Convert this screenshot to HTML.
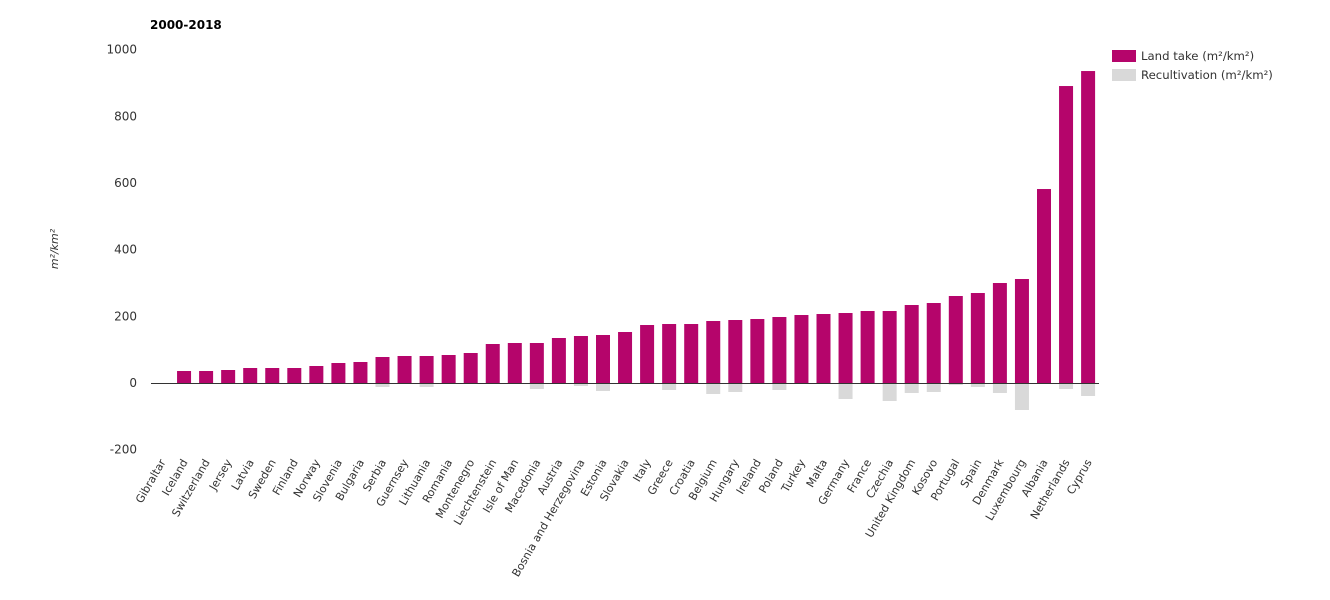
<!DOCTYPE html>
<html><head><meta charset="utf-8"><style>
html,body{margin:0;padding:0;background:#fff;}
svg{display:block;font-family:"DejaVu Sans","Liberation Sans",sans-serif;}
</style></head><body>
<svg id="c" width="1330" height="600" xmlns="http://www.w3.org/2000/svg">
<text x="150" y="29" font-size="12" font-weight="bold" fill="#000">2000-2018</text>
<text transform="translate(58,249) rotate(-90)" font-size="11" font-style="italic" fill="#333" text-anchor="middle">m²/km²</text>
<rect x="1112" y="50" width="24" height="12" fill="#b5056b"/>
<text x="1141" y="60" font-size="11.7" fill="#333">Land take (m²/km²)</text>
<rect x="1112" y="69" width="24" height="12" fill="#d9d9d9"/>
<text x="1141" y="79" font-size="11.7" fill="#333">Recultivation (m²/km²)</text>
<g id="g"></g>
</svg>
<script>
var names=["Gibraltar","Iceland","Switzerland","Jersey","Latvia","Sweden","Finland","Norway","Slovenia","Bulgaria","Serbia","Guernsey","Lithuania","Romania","Montenegro","Liechtenstein","Isle of Man","Macedonia","Austria","Bosnia and Herzegovina","Estonia","Slovakia","Italy","Greece","Croatia","Belgium","Hungary","Ireland","Poland","Turkey","Malta","Germany","France","Czechia","United Kingdom","Kosovo","Portugal","Spain","Denmark","Luxembourg","Albania","Netherlands","Cyprus"];
var lt=[0,36,36,39,45,45,45,51,60,63,78,81,81,84,90,117,120,120,135,141,144,153,174,177,177,186,189,192,198,204,207,210,216,216,234,240,261,270,300,312,582,891,936];
var rc=[0,0,0,0,0,0,0,0,0,0,-12,0,-12,0,0,0,0,-18,0,-9,-24,0,0,-21,0,-33,-27,0,-21,0,0,-48,0,-54,-30,-27,-6,-12,-30,-81,0,-18,-39];
var s="",y0=383,k=0.3333;
[1000,800,600,400,200,0,-200].forEach(function(v){var y=y0-v*k;s+='<text x="137" y="'+(y+4)+'" font-size="12" fill="#333" text-anchor="end">'+v+'</text>';});
for(var i=0;i<43;i++){var cx=162+i*22.05;
if(rc[i])s+='<rect x="'+(cx-7)+'" y="'+y0+'" width="14" height="'+(-rc[i]*k)+'" fill="#d9d9d9"/>';
if(lt[i])s+='<rect x="'+(cx-7)+'" y="'+(y0-lt[i]*k)+'" width="14" height="'+(lt[i]*k)+'" fill="#b5056b"/>';
s+='<text transform="translate('+(cx+4)+',462) rotate(-60)" font-size="11" fill="#333" text-anchor="end">'+names[i]+'</text>';}
s+='<line x1="151" y1="383.5" x2="1099" y2="383.5" stroke="#333" stroke-width="1"/>';
document.getElementById("g").innerHTML=s;
</script>
</body></html>
